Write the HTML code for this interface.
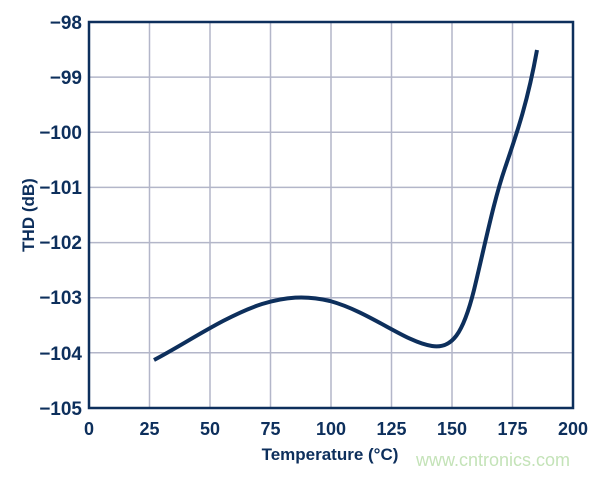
<!DOCTYPE html>
<html><head><meta charset="utf-8"><style>
body{margin:0;background:#fff;}
text{font-family:"Liberation Sans",Arial,sans-serif;font-weight:bold;fill:#0d2f5c;}
</style></head><body>
<svg width="600" height="473" viewBox="0 0 600 473" xmlns="http://www.w3.org/2000/svg">
<g stroke="#b3b6c9" stroke-width="1.5">
<line x1="149.5" y1="22" x2="149.5" y2="408"/>
<line x1="210" y1="22" x2="210" y2="408"/>
<line x1="270.5" y1="22" x2="270.5" y2="408"/>
<line x1="331" y1="22" x2="331" y2="408"/>
<line x1="391.5" y1="22" x2="391.5" y2="408"/>
<line x1="452" y1="22" x2="452" y2="408"/>
<line x1="512.5" y1="22" x2="512.5" y2="408"/>
<line x1="89" y1="77.1" x2="573" y2="77.1"/>
<line x1="89" y1="132.3" x2="573" y2="132.3"/>
<line x1="89" y1="187.4" x2="573" y2="187.4"/>
<line x1="89" y1="242.6" x2="573" y2="242.6"/>
<line x1="89" y1="297.7" x2="573" y2="297.7"/>
<line x1="89" y1="352.8" x2="573" y2="352.8"/>
</g>
<rect x="89" y="22" width="484" height="386" fill="none" stroke="#0d2f5c" stroke-width="2.5"/>
<path d="M154,360 C185,344 225,316 262,304 C285,297 305,295 330,301 C370,312 405,342 432,346 C452,349 463,334 474,290 C486,240 494,200 505,168 C518,130 528,100 537,50" fill="none" stroke="#0d2f5c" stroke-width="4"/>
<g font-size="19" text-anchor="end">
<text x="82" y="29">−98</text>
<text x="82" y="84">−99</text>
<text x="82" y="139">−100</text>
<text x="82" y="194">−101</text>
<text x="82" y="249">−102</text>
<text x="82" y="304">−103</text>
<text x="82" y="360">−104</text>
<text x="82" y="415">−105</text>
</g>
<g font-size="18" text-anchor="middle">
<text x="89" y="435">0</text>
<text x="149.5" y="435">25</text>
<text x="210" y="435">50</text>
<text x="270.5" y="435">75</text>
<text x="331" y="435">100</text>
<text x="391.5" y="435">125</text>
<text x="452" y="435">150</text>
<text x="512.5" y="435">175</text>
<text x="573" y="435">200</text>
</g>
<text x="330" y="460" font-size="17" text-anchor="middle">Temperature (°C)</text>
<text transform="translate(34,215) rotate(-90)" font-size="17" text-anchor="middle">THD (dB)</text>
<text x="416" y="466" font-size="18" style="font-weight:normal;fill:#c4e3b8">www.cntronics.com</text>
</svg>
</body></html>
